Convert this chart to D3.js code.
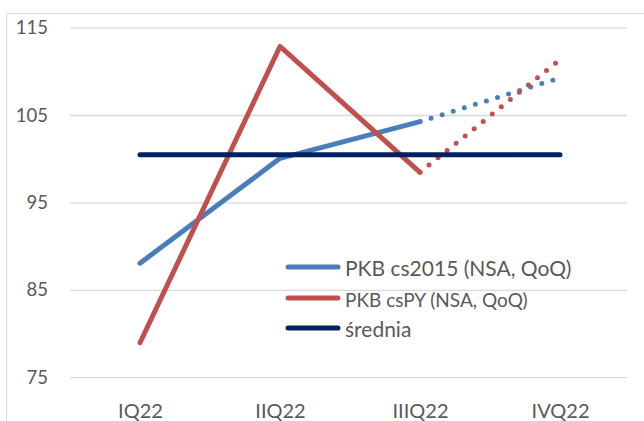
<!DOCTYPE html>
<html><head><meta charset="utf-8">
<script src="https://cdn.jsdelivr.net/npm/d3@7"></script>
<style>body{margin:0;background:#fff;}svg{display:block;font-family:Lato,sans-serif;}</style>
</head><body>
<svg id="c" width="644" height="421"></svg>
<script>
const categories = ["IQ22","IIQ22","IIIQ22","IVQ22"];
const seriesNames = ["PKB cs2015 (NSA, QoQ)","PKB csPY (NSA, QoQ)","średnia"];
const pkb2015 = [88.1, 100.1, 104.3, 109.3];
const pkbPY = [79.0, 112.9, 98.5, 111.4];
const srednia = [100.5, 100.5, 100.5, 100.5];
const yTicks = [75, 85, 95, 105, 115];

const FONT = "Lato, sans-serif";
const svg = d3.select("#c");
const W = 644, H = 421;
svg.append("rect").attr("x",6.5).attr("y",13.5).attr("width",W).attr("height",H)
  .attr("fill","#fff").attr("stroke","#d9d9d9").attr("stroke-width",1);

const x = d3.scalePoint().domain(categories).range([140,560]);
const y = d3.scaleLinear().domain([75,115]).range([377.7,28.1]);

const grid = svg.append("g");
grid.selectAll("line").data(yTicks).join("line")
  .attr("x1",70).attr("x2",627).attr("y1",d=>y(d)).attr("y2",d=>y(d))
  .attr("stroke","#d9d9d9").attr("stroke-width",1.3);

const yAxis = d3.axisLeft(y).tickValues(yTicks).tickSize(0).tickPadding(0);
const ya = svg.append("g").attr("transform","translate(48,0)").call(yAxis);
ya.select(".domain").remove();
ya.selectAll("text").attr("fill","#595959").attr("dy",null).attr("y",5.5)
  .style("font-size","18.5px").style("font-family",FONT);

const xAxis = d3.axisBottom(x).tickSize(0).tickPadding(0);
const xa = svg.append("g").attr("transform","translate(0,418)").call(xAxis);
xa.select(".domain").remove();
xa.selectAll("text").attr("fill","#595959").attr("dy",null).attr("y",0)
  .style("font-size","20px").style("font-family",FONT);

const line = d3.line().x((d,i)=>x(categories[i])).y(d=>y(d));
const lineSeg = (arr, from, to) => d3.line().x(d=>x(categories[d])).y(d=>y(arr[d]))(d3.range(from,to+1));

const colors = ["#4a7ebb","#c0504d","#002060"];

svg.append("path").attr("d",lineSeg(pkb2015,0,2)).attr("fill","none").attr("stroke",colors[0]).attr("stroke-width",5).attr("stroke-linecap","round").attr("stroke-linejoin","round");
svg.append("path").attr("d",lineSeg(pkbPY,0,2)).attr("fill","none").attr("stroke",colors[1]).attr("stroke-width",5).attr("stroke-linecap","round").attr("stroke-linejoin","round");
svg.append("path").attr("d",lineSeg(pkb2015,2,3)).attr("fill","none").attr("stroke",colors[0]).attr("stroke-width",5).attr("stroke-linecap","round").attr("stroke-dasharray","0 11.6").attr("stroke-dashoffset",-11.6);
svg.append("path").attr("d",lineSeg(pkbPY,2,3)).attr("fill","none").attr("stroke",colors[1]).attr("stroke-width",5).attr("stroke-linecap","round").attr("stroke-dasharray","0 11.6").attr("stroke-dashoffset",-11.6);
svg.append("path").attr("d",line(srednia)).attr("fill","none").attr("stroke",colors[2]).attr("stroke-width",5).attr("stroke-linecap","round");

const leg = [
  {name:seriesNames[0], c:colors[0], y:267, base:276, fs:21},
  {name:seriesNames[1], c:colors[1], y:298, base:307, fs:19},
  {name:seriesNames[2], c:colors[2], y:328, base:337, fs:21}
];
const lg = svg.append("g");
leg.forEach(d=>{
  lg.append("line").attr("x1",288).attr("x2",338).attr("y1",d.y).attr("y2",d.y)
    .attr("stroke",d.c).attr("stroke-width",5).attr("stroke-linecap","round");
  lg.append("text").attr("x",345).attr("y",d.base).attr("fill","#595959")
    .style("font-size",d.fs+"px").style("font-family",FONT).text(d.name);
});
</script>
</body></html>
